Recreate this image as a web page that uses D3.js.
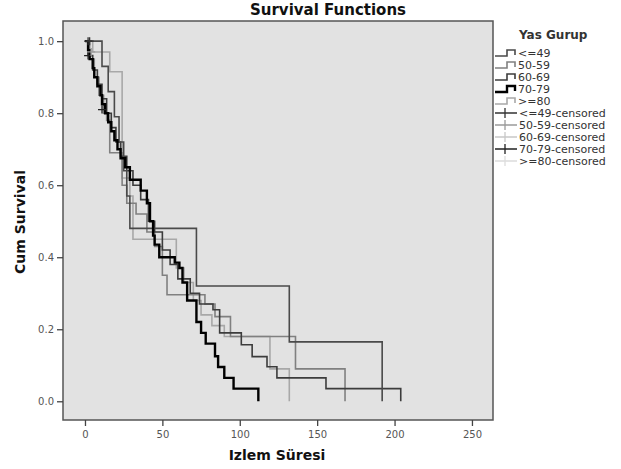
<html>
<script src="https://d3js.org/d3.v7.min.js"></script>
<style>
body {margin:0; background:#fff;}
text {font-family: "DejaVu Sans", sans-serif;}
</style>
<body onload="init()">
<svg width=621 height=469></svg>
<script>
// groups (legend order)
var groups = ["<=49", "50-59", "60-69", "70-79", ">=80"];

// step points: time, cumulative survival
var t49 = [0, 11, 15, 19, 22, 25, 27, 29, 72, 132, 192];
var s49 = [1, 0.93, 0.86, 0.79, 0.72, 0.64, 0.57, 0.48, 0.32, 0.165, 0];

var t5059 = [0, 3, 6, 9, 12, 14, 16, 24, 27, 33, 40, 45, 50, 53, 77.5, 84, 94, 136, 168];
var s5059 = [1, 0.95, 0.9, 0.85, 0.8, 0.78, 0.69, 0.6, 0.55, 0.52, 0.47, 0.43, 0.35, 0.296, 0.27, 0.235, 0.18, 0.09, 0];

var t6069 = [0, 2, 5, 8, 11, 14, 17, 20, 23, 27, 31, 36, 41, 45, 50, 55, 60, 68, 74, 82.7, 87, 101, 108, 117.6, 124, 155.7, 204];
var s6069 = [1, 0.96, 0.92, 0.88, 0.84, 0.8, 0.76, 0.72, 0.68, 0.64, 0.6, 0.56, 0.5, 0.47, 0.42, 0.38, 0.34, 0.3, 0.27, 0.254, 0.19, 0.157, 0.124, 0.096, 0.065, 0.035, 0];

var t7079 = [0, 2, 3, 5, 6, 8, 10, 11, 13, 15, 17, 19, 21, 23, 26, 29, 36, 40, 42, 44, 45, 48, 58, 61, 63, 66, 72, 75, 78, 84, 86, 90, 96, 112];
var s7079 = [1, 0.975, 0.95, 0.925, 0.9, 0.875, 0.85, 0.825, 0.8, 0.775, 0.75, 0.725, 0.7, 0.675, 0.65, 0.615, 0.585, 0.55, 0.5, 0.46, 0.435, 0.40, 0.385, 0.37, 0.33, 0.28, 0.22, 0.19, 0.16, 0.125, 0.095, 0.065, 0.035, 0];

var t80 = [0, 5, 16, 24, 29, 31, 59, 64, 70, 75, 82, 90, 119.5, 132];
var s80 = [1, 0.97, 0.915, 0.62, 0.57, 0.45, 0.37, 0.33, 0.28, 0.24, 0.21, 0.18, 0.09, 0];

// censored marks: group index, time, survival
var censGroup = [0, 0, 3, 3, 1];
var censTime = [2, 3, 2, 11, 4];
var censSurv = [1, 1, 0.96, 0.81, 0.97];

var xTicks = [0, 50, 100, 150, 200, 250];
var yTicks = [0, 0.2, 0.4, 0.6, 0.8, 1.0];

var lineColor = ["#4a4a4a", "#808080", "#3c3c3c", "#000000", "#a8a8a8"];
var lineWidth = [1.6, 1.6, 1.6, 2.4, 1.6];
var censColor = ["#333333", "#9a9a9a", "#c8c8c8", "#222222", "#dcdcdc"];

function init() {
var svg = d3.select("svg");
var x = d3.scaleLinear().domain([-14.2, 263.6]).range([63, 493]);
var y = d3.scaleLinear().domain([-0.052, 1.056]).range([420, 21]);

var series = [[t49, s49], [t5059, s5059], [t6069, s6069], [t7079, s7079], [t80, s80]];

svg.append("rect")
  .attr("x", 63).attr("y", 21).attr("width", 430).attr("height", 399)
  .attr("fill", "#e2e2e2");

var line = d3.line()
  .x(function(d) {return x(d[0]);})
  .y(function(d) {return y(d[1]);})
  .curve(d3.curveStepAfter);

var order = [4, 1, 2, 0, 3];
order.forEach(function(g) {
  var pts = series[g][0].map(function(t, i) {return [t, series[g][1][i]];});
  svg.append("path")
    .attr("d", line(pts))
    .attr("fill", "none")
    .attr("stroke", lineColor[g])
    .attr("stroke-width", lineWidth[g]);
});

censTime.forEach(function(t, i) {
  var cx = x(t), cy = y(censSurv[i]);
  svg.append("path")
    .attr("d", "M" + (cx - 4) + "," + cy + "H" + (cx + 4) + "M" + cx + "," + (cy - 4) + "V" + (cy + 4))
    .attr("stroke", censColor[censGroup[i]])
    .attr("stroke-width", 1.3);
});

svg.append("rect")
  .attr("x", 63).attr("y", 21).attr("width", 430).attr("height", 399)
  .attr("fill", "none").attr("stroke", "#555").attr("stroke-width", 1.5);

var ay = svg.append("g")
  .attr("transform", "translate(63,0)")
  .call(d3.axisLeft(y).tickValues(yTicks).tickFormat(d3.format(".1f")).tickSize(6).tickPadding(3));
var ax = svg.append("g")
  .attr("transform", "translate(0,420)")
  .call(d3.axisBottom(x).tickValues(xTicks).tickSize(6).tickPadding(5));
[ay, ax].forEach(function(a) {
  a.select(".domain").remove();
  a.selectAll("line").attr("stroke", "#444").attr("stroke-width", 1.3);
  a.selectAll("text").attr("fill", "#555").style("font-size", "10px")
    .style("font-family", "DejaVu Sans, sans-serif");
});

svg.append("text").attr("x", 328).attr("y", 15).attr("text-anchor", "middle")
  .style("font-size", "15px").style("font-weight", "bold").attr("fill", "#111")
  .text("Survival Functions");
svg.append("text").attr("x", 277).attr("y", 460).attr("text-anchor", "middle")
  .style("font-size", "14px").style("font-weight", "bold").attr("fill", "#111")
  .text("Izlem Süresi");
svg.append("text").attr("transform", "translate(25,222) rotate(-90)").attr("text-anchor", "middle")
  .style("font-size", "14px").style("font-weight", "bold").attr("fill", "#111")
  .text("Cum Survival");

// legend
var lg = svg.append("g");
lg.append("text").attr("x", 519).attr("y", 39)
  .style("font-size", "12px").style("font-weight", "bold").attr("fill", "#333")
  .text("Yas Gurup");
groups.forEach(function(g, i) {
  var cy = 53 + 12 * i;
  lg.append("path")
    .attr("d", "M495," + (cy + 3) + "H507V" + (cy - 3) + "H515V" + (cy + 2))
    .attr("fill", "none").attr("stroke", lineColor[i]).attr("stroke-width", lineWidth[i]);
  lg.append("text").attr("x", 518).attr("y", cy + 4)
    .style("font-size", "11px").attr("fill", "#333").text(g);
});
groups.forEach(function(g, i) {
  var cy = 53 + 12 * (i + 5);
  lg.append("path")
    .attr("d", "M495," + cy + "H517M505," + (cy - 5) + "V" + (cy + 5))
    .attr("stroke", censColor[i]).attr("stroke-width", 1.3);
  lg.append("text").attr("x", 519).attr("y", cy + 4)
    .style("font-size", "11px").attr("fill", "#333").text(g + "-censored");
});
}
</script>
</body>
</html>
